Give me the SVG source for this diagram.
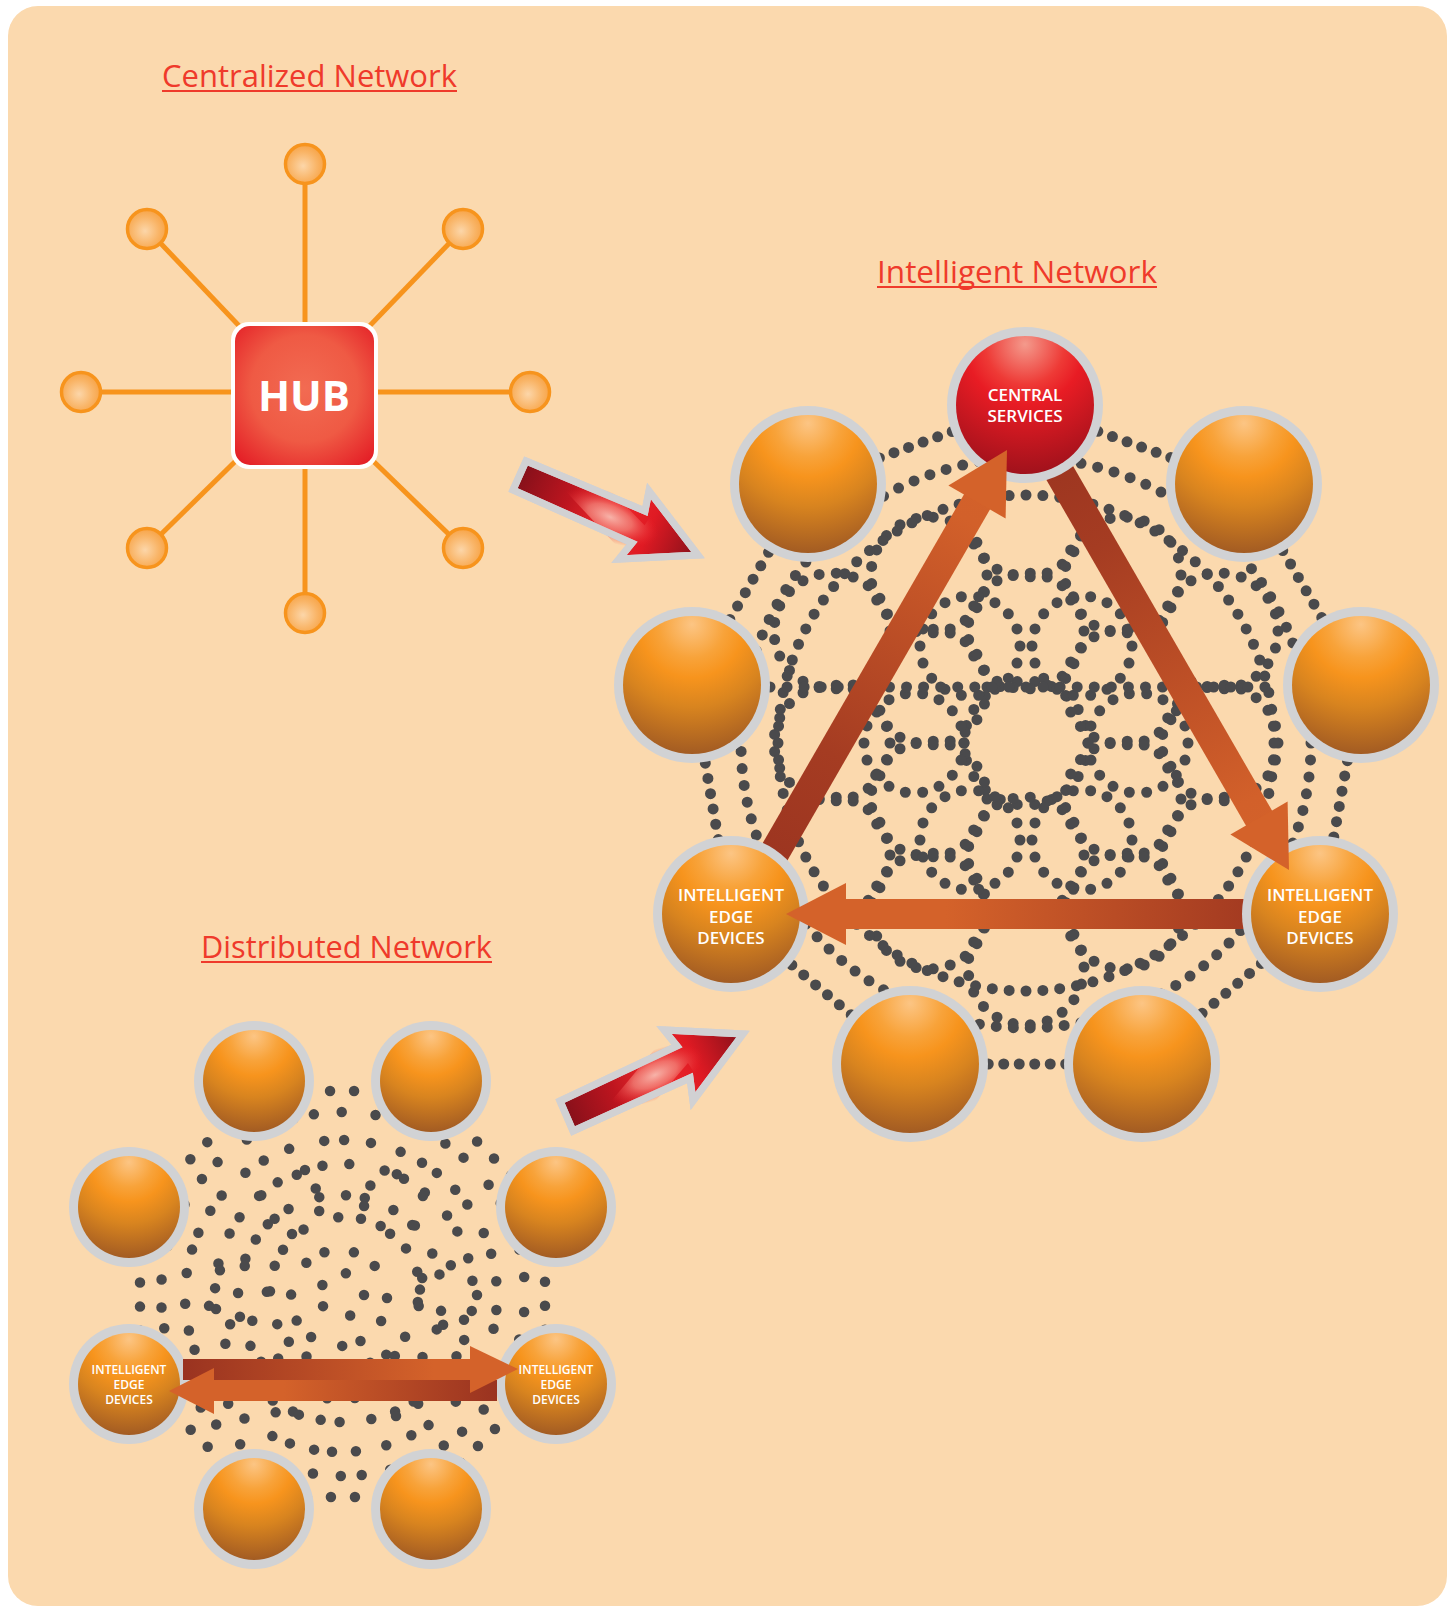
<svg xmlns="http://www.w3.org/2000/svg" width="1447" height="1606" viewBox="0 0 1447 1606">
<defs>
<style>
.t{font-family:"Open Sans","Noto Sans",sans-serif;fill:#EF3A2B;font-size:31px}
.ul{stroke:#EF3A2B;stroke-width:2}
.lbl{font-family:"Open Sans","Noto Sans",sans-serif;fill:#FFFFFF;font-weight:600;text-anchor:middle}
.ring{fill:#D1D2D4}
.orb{fill:url(#og)}
.dots{fill:none;stroke:#4A4A4C;stroke-width:11;stroke-linecap:round;stroke-dasharray:0 1}
.rdots{fill:none;stroke:#4A4A4C;stroke-width:10.5;stroke-linecap:round}
.spoke{stroke:#F7941D;stroke-width:5}
.sat{fill:url(#satg);stroke:#F7941D;stroke-width:3.5}
.head{fill:#D4622A}
.redarrow{stroke:#D1D1D3;stroke-width:7;stroke-linejoin:miter}
.outline{fill:none;stroke:#D1D1D3;stroke-width:7;stroke-linejoin:miter}
</style>
<radialGradient id="og" cx="0.5" cy="0.08" r="0.95" fx="0.5" fy="0.06">
<stop offset="0" stop-color="#FCC584"/>
<stop offset="0.25" stop-color="#F8A33A"/>
<stop offset="0.4" stop-color="#F7941D"/>
<stop offset="0.62" stop-color="#D8841F"/>
<stop offset="1" stop-color="#9E5823"/>
</radialGradient>
<radialGradient id="rg" cx="0.5" cy="0.08" r="0.95" fx="0.5" fy="0.06">
<stop offset="0" stop-color="#F49A8C"/>
<stop offset="0.3" stop-color="#EE3A36"/>
<stop offset="0.45" stop-color="#E81C24"/>
<stop offset="1" stop-color="#9C111B"/>
</radialGradient>
<radialGradient id="satg" cx="0.45" cy="0.55" r="0.6">
<stop offset="0" stop-color="#FCD6A9"/>
<stop offset="0.6" stop-color="#F9B466"/>
<stop offset="1" stop-color="#F7A040"/>
</radialGradient>
<radialGradient id="hubg" cx="0.5" cy="0.45" r="0.7">
<stop offset="0" stop-color="#F26B52"/>
<stop offset="0.55" stop-color="#EF5A44"/>
<stop offset="1" stop-color="#E41E26"/>
</radialGradient>
<radialGradient id="glow" cx="0.5" cy="0.5" r="0.5">
<stop offset="0" stop-color="#F7B3A9" stop-opacity="1"/>
<stop offset="0.45" stop-color="#F3857B" stop-opacity="0.75"/>
<stop offset="1" stop-color="#EC1C24" stop-opacity="0"/>
</radialGradient>
<linearGradient id="gA" gradientUnits="userSpaceOnUse" x1="737" y1="917" x2="1007" y2="450">
<stop offset="0" stop-color="#98311F"/>
<stop offset="0.35" stop-color="#A53C22"/>
<stop offset="0.85" stop-color="#D2602A"/>
<stop offset="1" stop-color="#D4622A"/>
</linearGradient>
<linearGradient id="gB" gradientUnits="userSpaceOnUse" x1="1021" y1="406" x2="1289" y2="870">
<stop offset="0" stop-color="#98311F"/>
<stop offset="0.3" stop-color="#A53C22"/>
<stop offset="0.85" stop-color="#D2602A"/>
<stop offset="1" stop-color="#D4622A"/>
</linearGradient>
<linearGradient id="gC" gradientUnits="userSpaceOnUse" x1="786" y1="0" x2="1320" y2="0">
<stop offset="0" stop-color="#D4622A"/>
<stop offset="0.3" stop-color="#D4622A"/>
<stop offset="1" stop-color="#98311F"/>
</linearGradient>
<linearGradient id="gD1" gradientUnits="userSpaceOnUse" x1="183" y1="0" x2="517" y2="0">
<stop offset="0" stop-color="#9A3320"/>
<stop offset="0.75" stop-color="#D4622A"/>
<stop offset="1" stop-color="#D4622A"/>
</linearGradient>
<linearGradient id="gD2" gradientUnits="userSpaceOnUse" x1="169" y1="0" x2="497" y2="0">
<stop offset="0" stop-color="#D4622A"/>
<stop offset="0.35" stop-color="#D4622A"/>
<stop offset="1" stop-color="#9A3320"/>
</linearGradient>
<linearGradient id="gR1" gradientUnits="userSpaceOnUse" x1="520" y1="476" x2="698" y2="555">
<stop offset="0" stop-color="#85101A"/>
<stop offset="0.28" stop-color="#BE151F"/>
<stop offset="0.5" stop-color="#EE2A2C"/>
<stop offset="0.72" stop-color="#DF1A23"/>
<stop offset="1" stop-color="#85101A"/>
</linearGradient>
<linearGradient id="gR2" gradientUnits="userSpaceOnUse" x1="566" y1="1116" x2="743" y2="1034">
<stop offset="0" stop-color="#85101A"/>
<stop offset="0.28" stop-color="#BE151F"/>
<stop offset="0.5" stop-color="#EE2A2C"/>
<stop offset="0.72" stop-color="#DF1A23"/>
<stop offset="1" stop-color="#85101A"/>
</linearGradient>
<clipPath id="cR1"><polygon points="526,461 645,511 649,491 698,555 619,559 632,543 513,490"/></clipPath>
<clipPath id="cR2"><polygon points="560,1101 677,1046 664,1030 743,1034 693,1101 690,1078 573,1131"/></clipPath>
</defs>

<rect x="0" y="0" width="1447" height="1606" fill="#FFFFFF"/>
<rect x="8" y="6" width="1439" height="1600" rx="30" fill="#FBD9AE"/>

<!-- Titles -->
<g id="title-centralized">
<text class="t" x="162" y="87" textLength="295" lengthAdjust="spacingAndGlyphs">Centralized Network</text>
<line class="ul" x1="162" y1="91" x2="457" y2="91"/>
</g>
<g id="title-intelligent">
<text class="t" x="877" y="283" textLength="280" lengthAdjust="spacingAndGlyphs">Intelligent Network</text>
<line class="ul" x1="877" y1="287" x2="1157" y2="287"/>
</g>
<g id="title-distributed">
<text class="t" x="201" y="958" textLength="291" lengthAdjust="spacingAndGlyphs">Distributed Network</text>
<line class="ul" x1="201" y1="962" x2="492" y2="962"/>
</g>

<!-- Centralized network -->
<g id="centralized-connectors">
<line class="spoke" x1="305" y1="394" x2="305" y2="164"/>
<line class="spoke" x1="305" y1="394" x2="305" y2="613"/>
<line class="spoke" x1="304" y1="392" x2="81" y2="392"/>
<line class="spoke" x1="304" y1="392" x2="530" y2="392"/>
<line class="spoke" x1="304" y1="394" x2="147" y2="229"/>
<line class="spoke" x1="304" y1="394" x2="463" y2="229"/>
<line class="spoke" x1="304" y1="394" x2="147" y2="548"/>
<line class="spoke" x1="304" y1="394" x2="463" y2="548"/>
</g>
<g id="sat-top"><circle class="sat" cx="305" cy="164" r="19.5"/></g>
<g id="sat-top-left"><circle class="sat" cx="147" cy="229" r="19.5"/></g>
<g id="sat-top-right"><circle class="sat" cx="463" cy="229" r="19.5"/></g>
<g id="sat-left"><circle class="sat" cx="81" cy="392" r="19.5"/></g>
<g id="sat-right"><circle class="sat" cx="530" cy="392" r="19.5"/></g>
<g id="sat-bottom-left"><circle class="sat" cx="147" cy="548" r="19.5"/></g>
<g id="sat-bottom-right"><circle class="sat" cx="463" cy="548" r="19.5"/></g>
<g id="sat-bottom"><circle class="sat" cx="305" cy="613" r="19.5"/></g>
<g id="hub">
<rect x="231" y="322" width="147" height="147" rx="18" fill="#FFFFFF"/>
<rect x="235" y="326" width="139" height="139" rx="15" fill="url(#hubg)"/>
<text x="304" y="411" font-family="'Open Sans','Noto Sans',sans-serif" font-weight="700" font-size="42" fill="#FFFFFF" text-anchor="middle">HUB</text>
</g>

<!-- Intelligent network mesh -->
<g id="intelligent-mesh" class="dots">
<circle cx="1026" cy="743" r="62" pathLength="22"/>
<circle cx="1026" cy="631" r="58" pathLength="21"/>
<circle cx="1123" cy="687" r="58" pathLength="21"/>
<circle cx="1123" cy="799" r="58" pathLength="21"/>
<circle cx="1026" cy="855" r="58" pathLength="21"/>
<circle cx="929" cy="799" r="58" pathLength="21"/>
<circle cx="929" cy="687" r="58" pathLength="21"/>
<circle cx="1026" cy="519" r="58" pathLength="21"/>
<circle cx="1220" cy="631" r="58" pathLength="21"/>
<circle cx="1220" cy="855" r="58" pathLength="21"/>
<circle cx="1026" cy="967" r="58" pathLength="21"/>
<circle cx="832" cy="855" r="58" pathLength="21"/>
<circle cx="832" cy="631" r="58" pathLength="21"/>
<circle cx="1220" cy="743" r="58" pathLength="21"/>
<circle cx="1123" cy="575" r="58" pathLength="21"/>
<circle cx="929" cy="575" r="58" pathLength="21"/>
<circle cx="832" cy="743" r="58" pathLength="21"/>
<circle cx="929" cy="911" r="58" pathLength="21"/>
<circle cx="1123" cy="911" r="58" pathLength="21"/>
<circle cx="1138" cy="743" r="50" pathLength="18"/>
<circle cx="914" cy="743" r="50" pathLength="18"/>
<circle cx="1082" cy="646" r="50" pathLength="18"/>
<circle cx="970" cy="646" r="50" pathLength="18"/>
<circle cx="1082" cy="840" r="50" pathLength="18"/>
<circle cx="970" cy="840" r="50" pathLength="18"/>
<circle cx="1026" cy="743" r="285" pathLength="105"/>
<circle cx="1026" cy="743" r="248" pathLength="92"/>
<path d="M770 687 H1282" pathLength="30"/>
<path d="M1025 405 L1244 484 L1361 685 L1320 914 L1142 1064 L910 1064 L731 914 L692 685 L808 484 Z" pathLength="135"/>
</g>

<!-- Distributed network mesh -->
<g id="distributed-mesh">
<path class="dots" style="stroke-width:10.5" d="M258 1091 L427 1091 L545 1210 L545 1379 L427 1497 L258 1497 L140 1379 L140 1210 Z" pathLength="56"/>
<circle class="rdots" cx="342" cy="1295" r="22" stroke-dasharray="0 26 0 31 0 22 0 28 0 31"/>
<circle class="rdots" cx="339" cy="1298" r="48" stroke-dasharray="0 24 0 29 0 19 0 33 0 22 0 27 0 36 0 21 0 30 0 25 0 36"/>
<circle class="rdots" cx="345" cy="1292" r="75" stroke-dasharray="0 21 0 34 0 26 0 18 0 29 0 37 0 23" stroke-dashoffset="7"/>
<circle class="rdots" cx="340" cy="1297" r="102" stroke-dasharray="0 27 0 19 0 31 0 24 0 35 0 22 0 28 0 17 0 33" stroke-dashoffset="13"/>
<circle class="rdots" cx="344" cy="1293" r="129" stroke-dasharray="0 23 0 30 0 18 0 27 0 36 0 21 0 25 0 32 0 19 0 29" stroke-dashoffset="5"/>
<circle class="rdots" cx="341" cy="1296" r="156" stroke-dasharray="0 25 0 19 0 33 0 22 0 28 0 36 0 20 0 27 0 31 0 24 0 18" stroke-dashoffset="11"/>
<circle class="rdots" cx="343" cy="1294" r="182" stroke-dasharray="0 21 0 28 0 34 0 19 0 26 0 31 0 23 0 37 0 22 0 29" stroke-dashoffset="3"/>
<circle class="rdots" cx="447" cy="1295" r="30" stroke-dasharray="0 29 0 22 0 36 0 25 0 33 0 44"/>
<circle class="rdots" cx="394" cy="1204" r="30" stroke-dasharray="0 33 0 27 0 41 0 22 0 30 0 36" stroke-dashoffset="9"/>
<circle class="rdots" cx="290" cy="1204" r="30" stroke-dasharray="0 24 0 38 0 27 0 31 0 45 0 24" stroke-dashoffset="17"/>
<circle class="rdots" cx="237" cy="1295" r="30" stroke-dasharray="0 35 0 23 0 29 0 40 0 26 0 36" stroke-dashoffset="4"/>
<circle class="rdots" cx="290" cy="1386" r="30" stroke-dasharray="0 27 0 32 0 24 0 37 0 30 0 39" stroke-dashoffset="21"/>
<circle class="rdots" cx="394" cy="1386" r="30" stroke-dasharray="0 31 0 26 0 40 0 23 0 34 0 35" stroke-dashoffset="12"/>
</g>

<!-- Intelligent network arrow shafts (under spheres) -->
<g id="intelligent-connectors">
<polygon points="966.5,490.1 992.5,505.1 750.5,924.3 724.5,909.3" fill="url(#gA)"/>
<polygon points="1034.2,398.7 1008.2,413.7 1248.5,829.9 1274.5,814.9" fill="url(#gB)"/>
<rect x="841" y="899" width="479" height="30" fill="url(#gC)"/>
</g>

<!-- Intelligent network nodes -->
<g id="central-services">
<circle class="ring" cx="1025" cy="405" r="78"/>
<circle cx="1025" cy="405" r="69" fill="url(#rg)"/>
<text class="lbl" x="1025" y="401" font-size="17">CENTRAL</text>
<text class="lbl" x="1025" y="422" font-size="17">SERVICES</text>
</g>
<g id="in-node-top-left"><circle class="ring" cx="808" cy="484" r="78"/><circle class="orb" cx="808" cy="484" r="69"/></g>
<g id="in-node-top-right"><circle class="ring" cx="1244" cy="484" r="78"/><circle class="orb" cx="1244" cy="484" r="69"/></g>
<g id="in-node-left"><circle class="ring" cx="692" cy="685" r="78"/><circle class="orb" cx="692" cy="685" r="69"/></g>
<g id="in-node-right"><circle class="ring" cx="1361" cy="685" r="78"/><circle class="orb" cx="1361" cy="685" r="69"/></g>
<g id="in-node-bottom-left"><circle class="ring" cx="910" cy="1064" r="78"/><circle class="orb" cx="910" cy="1064" r="69"/></g>
<g id="in-node-bottom-right"><circle class="ring" cx="1142" cy="1064" r="78"/><circle class="orb" cx="1142" cy="1064" r="69"/></g>
<g id="in-edge-left">
<circle class="ring" cx="731" cy="914" r="78"/><circle class="orb" cx="731" cy="914" r="69"/>
<text class="lbl" x="731" y="901" font-size="17">INTELLIGENT</text>
<text class="lbl" x="731" y="923" font-size="17">EDGE</text>
<text class="lbl" x="731" y="944" font-size="17">DEVICES</text>
</g>
<g id="in-edge-right">
<circle class="ring" cx="1320" cy="914" r="78"/><circle class="orb" cx="1320" cy="914" r="69"/>
<text class="lbl" x="1320" y="901" font-size="17">INTELLIGENT</text>
<text class="lbl" x="1320" y="923" font-size="17">EDGE</text>
<text class="lbl" x="1320" y="944" font-size="17">DEVICES</text>
</g>

<!-- Intelligent arrow heads (over spheres) -->
<g id="intelligent-arrowheads">
<polygon class="head" points="1007,450 1005.6,518.5 948.4,485.5"/>
<polygon class="head" points="1289,870 1287.6,801.5 1230.4,834.5"/>
<polygon class="head" points="786,914 846,883 846,945"/>
</g>

<!-- Distributed network nodes -->
<g id="dn-node-top-left"><circle class="ring" cx="254" cy="1081" r="60"/><circle class="orb" cx="254" cy="1081" r="51"/></g>
<g id="dn-node-top-right"><circle class="ring" cx="431" cy="1081" r="60"/><circle class="orb" cx="431" cy="1081" r="51"/></g>
<g id="dn-node-left"><circle class="ring" cx="129" cy="1207" r="60"/><circle class="orb" cx="129" cy="1207" r="51"/></g>
<g id="dn-node-right"><circle class="ring" cx="556" cy="1207" r="60"/><circle class="orb" cx="556" cy="1207" r="51"/></g>
<g id="dn-node-bottom-left"><circle class="ring" cx="254" cy="1509" r="60"/><circle class="orb" cx="254" cy="1509" r="51"/></g>
<g id="dn-node-bottom-right"><circle class="ring" cx="431" cy="1509" r="60"/><circle class="orb" cx="431" cy="1509" r="51"/></g>
<g id="dn-edge-left">
<circle class="ring" cx="129" cy="1384" r="60"/><circle class="orb" cx="129" cy="1384" r="51"/>
<text class="lbl" x="129" y="1374" font-size="12">INTELLIGENT</text>
<text class="lbl" x="129" y="1389" font-size="12">EDGE</text>
<text class="lbl" x="129" y="1404" font-size="12">DEVICES</text>
</g>
<g id="dn-edge-right">
<circle class="ring" cx="556" cy="1384" r="60"/><circle class="orb" cx="556" cy="1384" r="51"/>
<text class="lbl" x="556" y="1374" font-size="12">INTELLIGENT</text>
<text class="lbl" x="556" y="1389" font-size="12">EDGE</text>
<text class="lbl" x="556" y="1404" font-size="12">DEVICES</text>
</g>

<!-- Distributed double arrow -->
<g id="distributed-connectors">
<rect x="183" y="1359" width="292" height="21" fill="url(#gD1)"/>
<rect x="210" y="1380" width="287" height="21" fill="url(#gD2)"/>
<polygon class="head" points="518,1369 470,1346 470,1393"/>
<polygon class="head" points="169,1391 214,1368 214,1414"/>
</g>

<!-- Transition arrows -->
<g id="transition-arrows">
<g id="arrow-centralized-to-intelligent">
<polygon class="redarrow" fill="url(#gR1)" points="526,461 645,511 649,491 698,555 619,559 632,543 513,490"/>
<ellipse cx="610" cy="517" rx="52" ry="24" transform="rotate(23 610 517)" fill="url(#glow)" clip-path="url(#cR1)"/>
<polygon class="outline" points="526,461 645,511 649,491 698,555 619,559 632,543 513,490"/>
</g>
<g id="arrow-distributed-to-intelligent">
<polygon class="redarrow" fill="url(#gR2)" points="560,1101 677,1046 664,1030 743,1034 693,1101 690,1078 573,1131"/>
<ellipse cx="655" cy="1075" rx="52" ry="24" transform="rotate(-25 655 1075)" fill="url(#glow)" clip-path="url(#cR2)"/>
<polygon class="outline" points="560,1101 677,1046 664,1030 743,1034 693,1101 690,1078 573,1131"/>
</g>
</g>
</svg>
